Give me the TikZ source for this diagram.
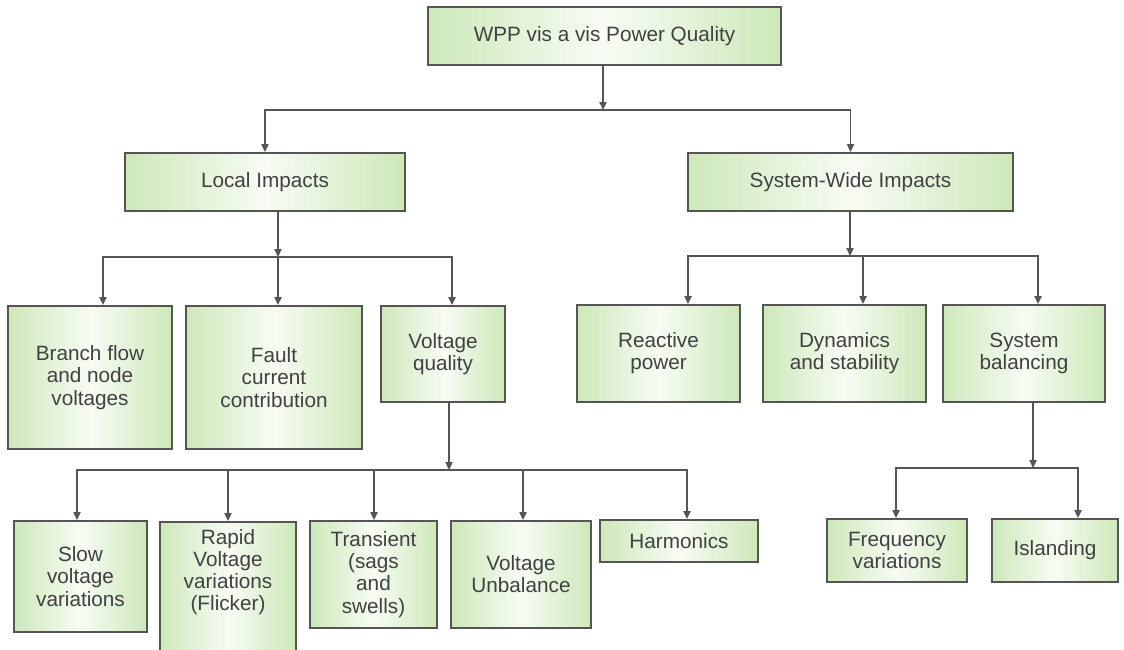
\documentclass[tikz,border=0pt]{standalone}
\usepackage{fontspec}
\setmainfont{Liberation Sans}
\usepackage{tikz}
\usetikzlibrary{arrows.meta}

\definecolor{boxgreen}{RGB}{205,232,185}
\definecolor{linegrey}{RGB}{85,85,85}
\definecolor{textgrey}{RGB}{65,65,65}

\begin{document}
\begin{tikzpicture}[x = 0.02cm, y = -0.02cm,
        box/.style = {draw = linegrey, line width = 1.1pt, left color = boxgreen, right color = boxgreen, middle color = white!85!boxgreen, text = textgrey, font = {\fontsize{11.8}{12.6}\selectfont}, align = center, inner sep = 2pt},
        arr/.style = {draw = linegrey, line width = 1pt, -{Triangle[length = 4.5pt, width = 4pt]}}]
        \useasboundingbox (0, 0) rectangle (1124, 649);

        \node[box, minimum width = 7.06cm, minimum height = 1.16cm] (top) at (604.5, 36) {WPP vis a vis Power Quality};


        \node[box, minimum width = 5.6cm, minimum height = 1.16cm] (local) at (265, 182) {Local Impacts};

        \node[box, minimum width = 6.5cm, minimum height = 1.16cm] (wide) at (850.5, 182) {System-Wide Impacts};


        \node[box, minimum width = 3.28cm, minimum height = 2.86cm] (branch) at (90, 377.5) {Branch flow\\and node\\voltages};

        \node[box, minimum width = 3.52cm, minimum height = 2.86cm] (fault) at (274, 377.5) {Fault\\current\\contribution};

        \node[box, minimum width = 2.48cm, minimum height = 1.92cm] (vq) at (443, 354) {Voltage\\quality};

        \node[box, minimum width = 3.26cm, minimum height = 1.94cm] (reactive) at (658.5, 353.5) {Reactive\\power};

        \node[box, minimum width = 3.26cm, minimum height = 1.94cm] (dynamics) at (844.5, 353.5) {Dynamics\\and stability};

        \node[box, minimum width = 3.24cm, minimum height = 1.94cm] (balancing) at (1024, 353.5) {System\\balancing};


        \node[box, minimum width = 2.66cm, minimum height = 2.22cm] (slow) at (80.5, 576.5) {Slow\\voltage\\variations};

        \node[box, minimum width = 2.72cm, anchor = north, inner ysep = 4pt, text depth = 3cm] (rapid) at (228, 521) {Rapid\\Voltage\\variations\\(Flicker)};

        \node[box, minimum width = 2.54cm, minimum height = 2.14cm] (transient) at (373.5, 574.5) {Transient\\(sags\\and\\swells)};

        \node[box, minimum width = 2.8cm, minimum height = 2.14cm] (unbalance) at (521, 574.5) {Voltage\\Unbalance};

        \node[box, minimum width = 3.16cm, minimum height = 0.84cm] (harmonics) at (679, 541) {Harmonics};

        \node[box, minimum width = 2.8cm, minimum height = 1.26cm] (frequency) at (897, 550.5) {Frequency\\variations};

        \node[box, minimum width = 2.52cm, minimum height = 1.26cm] (islanding) at (1055, 550.5) {Islanding};

        % top split
        \coordinate (t0) at (603, 110);
        \draw[arr] (top.south -| t0) -- (t0);
        \draw[arr] (t0) -- (t0 -| local.north) -- (local.north);
        \draw[arr] (t0) -- (t0 -| wide.north) -- (wide.north);

        % local impacts
        \coordinate (l0) at (278, 257);
        \coordinate (l1) at (103, 257);
        \coordinate (l3) at (452, 257);
        \draw[arr] (local.south -| l0) -- (l0);
        \draw[arr] (l0) -- (l1) -- (l1 |- branch.north);
        \draw[arr] (l0) -- (l3) -- (l3 |- vq.north);
        \draw[arr] (l0) -- (l0 |- fault.north);

        % system-wide impacts
        \coordinate (w0) at (850, 256);
        \coordinate (w1) at (688, 256);
        \coordinate (w2) at (863, 256);
        \coordinate (w3) at (1038, 256);
        \draw[arr] (wide.south -| w0) -- (w0);
        \draw[arr] (w0) -- (w1) -- (w1 |- reactive.north);
        \draw[arr] (w0) -- (w3) -- (w3 |- balancing.north);
        \draw[arr] (w2) -- (w2 |- dynamics.north);

        % voltage quality
        \coordinate (v0) at (449, 470);
        \coordinate (v1) at (77, 470);
        \coordinate (v2) at (228, 470);
        \coordinate (v3) at (374, 470);
        \coordinate (v4) at (523, 470);
        \coordinate (v5) at (687, 470);
        \draw[arr] (vq.south -| v0) -- (v0);
        \draw[arr] (v0) -- (v1) -- (v1 |- slow.north);
        \draw[arr] (v0) -- (v5) -- (v5 |- harmonics.north);
        \draw[arr] (v2) -- (v2 |- rapid.north);
        \draw[arr] (v3) -- (v3 |- transient.north);
        \draw[arr] (v4) -- (v4 |- unbalance.north);

        % system balancing
        \coordinate (b0) at (1033, 468);
        \coordinate (b1) at (896, 468);
        \coordinate (b2) at (1078, 468);
        \draw[arr] (balancing.south -| b0) -- (b0);
        \draw[arr] (b0) -- (b1) -- (b1 |- frequency.north);
        \draw[arr] (b0) -- (b2) -- (b2 |- islanding.north);
    \end{tikzpicture}
\end{document}
